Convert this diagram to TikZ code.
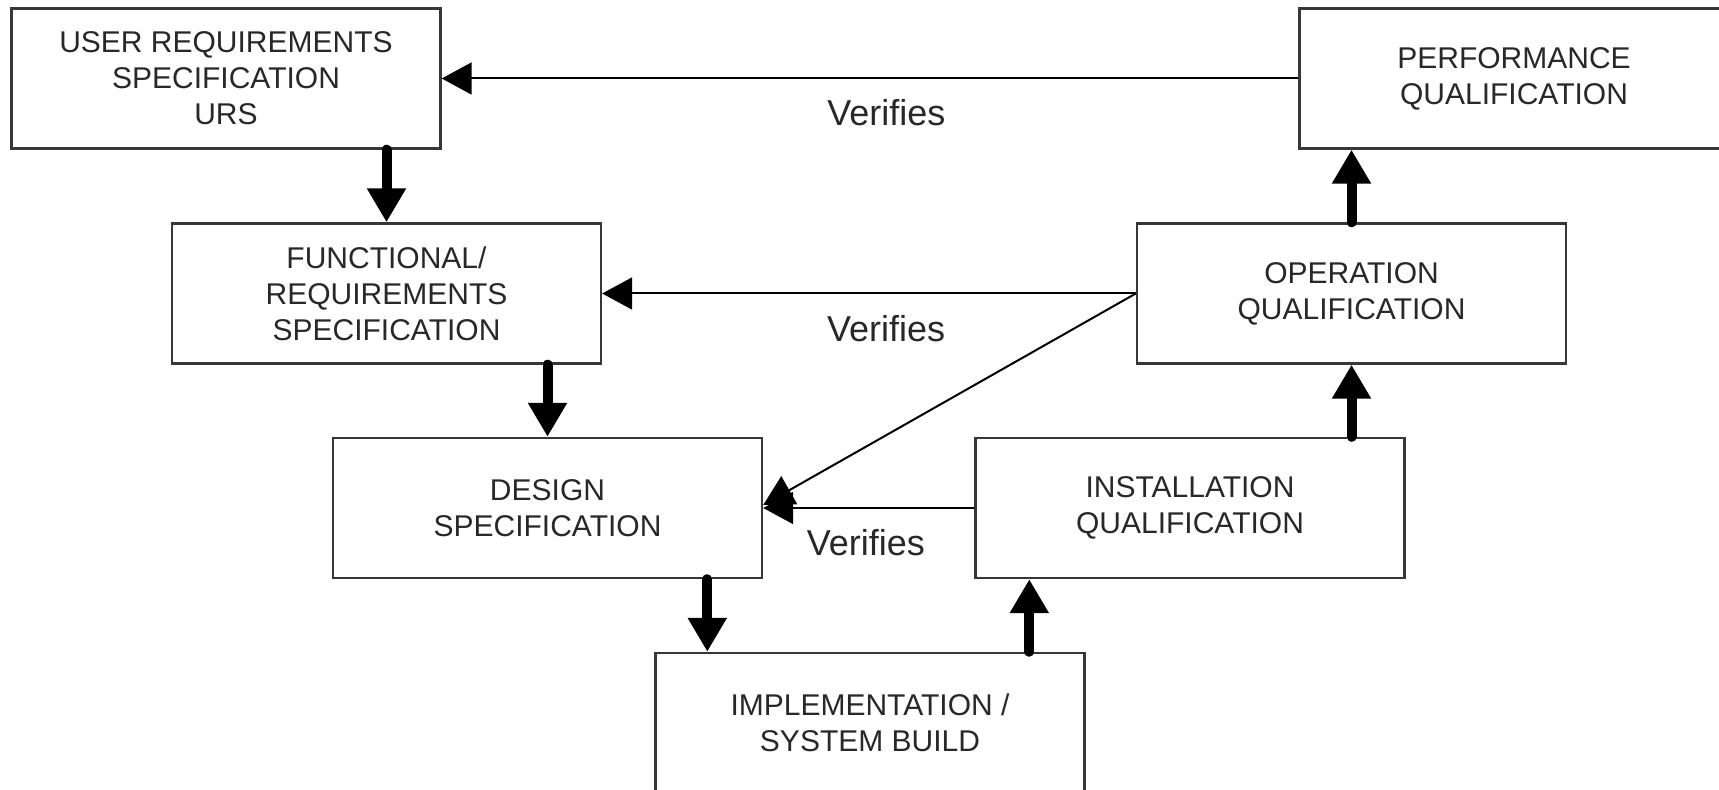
\documentclass[tikz,border=0pt]{standalone}
\usepackage{fontspec}
\setmainfont{Liberation Sans}
\usetikzlibrary{arrows.meta,calc}
\definecolor{boxline}{RGB}{55,55,55}
\definecolor{txt}{RGB}{40,40,40}
\tikzset{
  stagebox/.style={draw=boxline, line width=1.2pt, fill=white, minimum width=214.5pt, minimum height=70pt,
    inner sep=0pt, align=center, text=txt, font=\fontsize{15}{18}\selectfont},
  verifyarrow/.style={draw=black, line width=1pt, -{Triangle[length=15pt,width=16pt]}},
  flowarrow/.style={draw=black, line width=5pt, line cap=round, -{Triangle[length=17pt,width=18.5pt]}},
  veriflabel/.style={text=txt, font=\fontsize{18}{21}\selectfont, inner sep=0pt}
}
\begin{document}
\begin{tikzpicture}[x=0.5pt,y=-0.5pt]
\useasboundingbox (0,0) rectangle (1719,790);
\clip (0,0) rectangle (1719,790);
\fill[white] (0,0) rectangle (1719,790);
\node[stagebox] (urs)  at (226,78.5)   {USER REQUIREMENTS\\SPECIFICATION\\URS};
\node[stagebox] (pq)   at (1514,78.5)  {PERFORMANCE\\QUALIFICATION};
\node[stagebox] (frs)  at (386.5,293.5) {FUNCTIONAL/\\REQUIREMENTS\\SPECIFICATION};
\node[stagebox] (oq)   at (1351.5,293.5) {OPERATION\\QUALIFICATION};
\node[stagebox] (ds)   at (547.5,508)  {DESIGN\\SPECIFICATION};
\node[stagebox] (iq)   at (1190,508)   {INSTALLATION\\QUALIFICATION};
\node[stagebox] (impl) at (870,723)    {IMPLEMENTATION /\\SYSTEM BUILD};
% verification connectors
\draw[verifyarrow] (pq.west) -- (urs.east)
  node[veriflabel, pos=0.481, yshift=-17pt] (v1) {Verifies};
\draw[verifyarrow] (oq.west) -- (frs.east)
  node[veriflabel, pos=0.468, yshift=-17.5pt] (v2) {Verifies};
\draw[verifyarrow] (oq.west) -- ([yshift=1.5pt]ds.east);
\draw[verifyarrow] (iq.west) -- (ds.east)
  node[veriflabel, pos=0.514, yshift=-17.5pt] (v3) {Verifies};
% flow arrows
\coordinate (dsimpl) at ([xshift=26.5pt]impl.north west);
\coordinate (impliq) at ([xshift=187.5pt]impl.north west);
\draw[flowarrow] (urs.south -| frs.north) -- (frs.north);
\draw[flowarrow] (frs.south -| ds.north) -- (ds.north);
\draw[flowarrow] (ds.south -| dsimpl) -- (dsimpl);
\draw[flowarrow] (impliq) -- (iq.south -| impliq);
\draw[flowarrow] (iq.north -| oq.south) -- (oq.south);
\draw[flowarrow] (oq.north) -- (oq.north |- pq.south);
\end{tikzpicture}
\end{document}
